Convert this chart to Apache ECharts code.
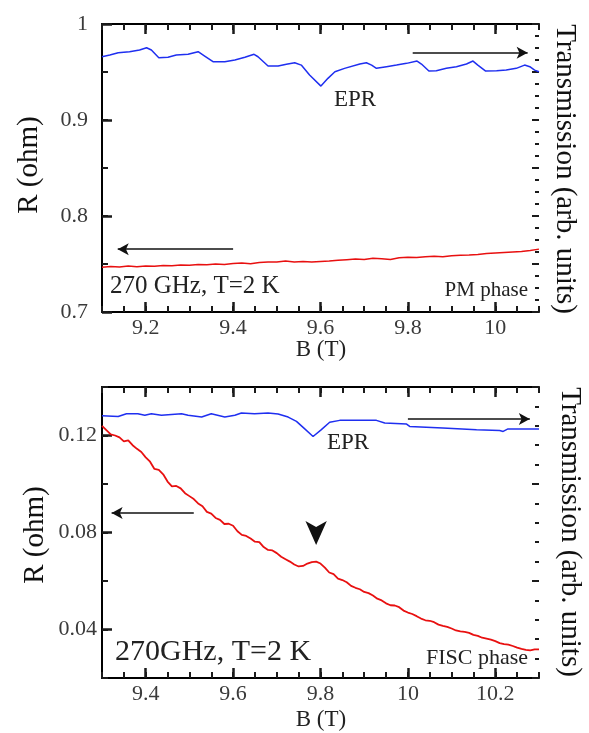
<!DOCTYPE html>
<html>
<head>
<meta charset="utf-8">
<script src="https://cdn.jsdelivr.net/npm/echarts@6/dist/echarts.min.js"></script>
<style>
html,body{margin:0;padding:0;background:#fff;}
#c{width:589px;height:733px;}
</style>
</head>
<body>
<div id="c"></div>
<script>
// ---------- DATA ----------
// Top panel (PM phase)
var topRedB = [9.10,9.12,9.14,9.16,9.18,9.20,9.22,9.24,9.26,9.28,9.30,9.32,9.34,9.36,9.38,9.40,9.42,9.44,9.46,9.48,9.50,9.52,9.54,9.56,9.58,9.60,9.62,9.64,9.66,9.68,9.70,9.72,9.74,9.76,9.78,9.80,9.82,9.84,9.86,9.88,9.90,9.92,9.94,9.96,9.98,10.00,10.02,10.04,10.06,10.08,10.10];
var topRedR = [0.7465,0.7475,0.7470,0.7478,0.7472,0.7480,0.7476,0.7485,0.7482,0.7490,0.7486,0.7495,0.7492,0.7500,0.7496,0.7505,0.7510,0.7503,0.7515,0.7520,0.7522,0.7530,0.7522,0.7525,0.7522,0.7527,0.7530,0.7538,0.7545,0.7552,0.7548,0.7560,0.7555,0.7548,0.7565,0.7570,0.7568,0.7575,0.7580,0.7575,0.7585,0.7590,0.7594,0.7600,0.7610,0.7615,0.7620,0.7625,0.7630,0.7640,0.7655];
var topBlueB = [9.100,9.118,9.137,9.163,9.186,9.202,9.213,9.230,9.251,9.270,9.297,9.320,9.335,9.354,9.381,9.404,9.427,9.448,9.457,9.480,9.503,9.522,9.541,9.556,9.575,9.601,9.617,9.633,9.655,9.690,9.705,9.717,9.728,9.751,9.774,9.797,9.821,9.831,9.848,9.865,9.888,9.911,9.934,9.949,9.960,9.978,10.003,10.025,10.048,10.067,10.079,10.090,10.100];
var topBlueT = [0.9659,0.9677,0.9701,0.9711,0.9729,0.9753,0.9729,0.9649,0.9653,0.9677,0.9684,0.9711,0.9666,0.9607,0.9607,0.9625,0.9653,0.9684,0.9659,0.9562,0.9562,0.9580,0.9596,0.9572,0.9468,0.9353,0.9434,0.9503,0.9538,0.9583,0.9596,0.9572,0.9538,0.9555,0.9572,0.9590,0.9614,0.9583,0.9510,0.9513,0.9538,0.9555,0.9583,0.9614,0.9572,0.9510,0.9513,0.9520,0.9538,0.9572,0.9555,0.9520,0.9503];

// Bottom panel (FISC phase)
var botRedB = [9.30,9.31,9.32,9.33,9.34,9.35,9.36,9.37,9.38,9.39,9.40,9.41,9.42,9.43,9.44,9.45,9.46,9.47,9.48,9.49,9.50,9.51,9.52,9.53,9.54,9.55,9.56,9.57,9.58,9.59,9.60,9.61,9.62,9.63,9.64,9.65,9.66,9.67,9.68,9.69,9.70,9.71,9.72,9.73,9.74,9.75,9.76,9.77,9.78,9.79,9.80,9.81,9.82,9.83,9.84,9.85,9.86,9.87,9.88,9.89,9.90,9.91,9.92,9.93,9.94,9.95,9.96,9.97,9.98,9.99,10.00,10.01,10.02,10.03,10.04,10.05,10.06,10.07,10.08,10.09,10.10,10.11,10.12,10.13,10.14,10.15,10.16,10.17,10.18,10.19,10.20,10.21,10.22,10.23,10.24,10.25,10.26,10.27,10.28,10.29,10.30];
var botRedR = [0.1240,0.1222,0.1205,0.1200,0.1192,0.1176,0.1180,0.1160,0.1145,0.1132,0.1110,0.1092,0.1062,0.1058,0.1040,0.1010,0.0990,0.0992,0.0982,0.0962,0.0950,0.0938,0.0920,0.0908,0.0885,0.0878,0.0860,0.0852,0.0835,0.0836,0.0828,0.0805,0.0790,0.0786,0.0775,0.0762,0.0760,0.0740,0.0728,0.0726,0.0715,0.0700,0.0690,0.0680,0.0668,0.0660,0.0662,0.0672,0.0678,0.0680,0.0672,0.0655,0.0635,0.0628,0.0610,0.0604,0.0595,0.0580,0.0572,0.0566,0.0555,0.0550,0.0540,0.0527,0.0520,0.0508,0.0500,0.0499,0.0492,0.0478,0.0470,0.0464,0.0455,0.0445,0.0438,0.0436,0.0430,0.0420,0.0415,0.0411,0.0404,0.0396,0.0392,0.0390,0.0386,0.0378,0.0374,0.0366,0.0362,0.0358,0.0352,0.0344,0.0340,0.0338,0.0332,0.0325,0.0320,0.0316,0.0314,0.0318,0.0318];
var botBlueB = [9.300,9.337,9.356,9.382,9.398,9.413,9.436,9.482,9.497,9.528,9.550,9.581,9.604,9.619,9.649,9.680,9.703,9.726,9.745,9.764,9.783,9.802,9.821,9.844,9.928,9.947,9.997,10.004,10.080,10.084,10.157,10.210,10.218,10.229,10.300];
var botBlueT = [13.52,13.48,13.62,13.62,13.54,13.62,13.54,13.62,13.54,13.45,13.62,13.45,13.54,13.66,13.62,13.66,13.61,13.45,13.23,12.84,12.45,12.80,13.18,13.28,13.28,13.14,13.09,12.97,12.89,12.80,12.80,12.76,12.71,12.84,12.84];

// Tick values
var topXTicks = [9.2,9.4,9.6,9.8,10];
var botXTicks = [9.4,9.6,9.8,10,10.2];
var topYTicks = [0.7,0.8,0.9,1];
var botYTicks = [0.04,0.08,0.12];

function zip(a,b){var o=[];for(var i=0;i<a.length;i++)o.push([a[i],b[i]]);return o;}

// ---------- STYLE ----------
var FONT = "'Liberation Serif','Times New Roman',serif";
var LBL = '#3a3a3a';
var TK = '#1a1a1a';

function major(grid,min,max,pos,ticks,labels,margin,len){
  return {type:'value', gridIndex:grid, min:min, max:max, position:pos,
    axisLine:{show:true, onZero:false, lineStyle:{color:'#000', width:2}},
    splitLine:{show:false},
    axisTick:{show:true, inside:true, length:len, customValues:ticks, lineStyle:{color:TK, width:2.5}},
    axisLabel:{show:labels, customValues:ticks, margin:margin, fontFamily:FONT, fontSize:22, color:LBL}};
}
function minor(grid,min,max,pos,interval,len){
  return {type:'value', gridIndex:grid, min:min, max:max, position:pos, interval:interval,
    axisLine:{show:false, onZero:false},
    splitLine:{show:false}, axisLabel:{show:false},
    axisTick:{show:true, inside:true, length:len, lineStyle:{color:TK, width:2}}};
}

var chart = echarts.init(document.getElementById('c'));
var txt = function(t,x,y,size,align,rot,color){
  return {type:'text', x:x, y:y, rotation:rot||0, z:100,
    style:{text:t, font: size+'px '+FONT, fill:color||'#1a1a1a', align:align||'center', verticalAlign:'middle'}};
};
var arrowLine = {color:'#111', width:1.5, type:'solid'};

chart.setOption({
  animation:false,
  backgroundColor:'#fff',
  grid:[
    {left:102, top:24, width:437, height:288},
    {left:102, top:387, width:437, height:291}
  ],
  xAxis:[
    major(0,9.1,10.1,'bottom',topXTicks,true,5,10),
    minor(0,9.1,10.1,'bottom',0.05,6),
    major(0,9.1,10.1,'top',topXTicks,false,5,10),
    minor(0,9.1,10.1,'top',0.05,6),
    major(1,9.3,10.3,'bottom',botXTicks,true,5,10),
    minor(1,9.3,10.3,'bottom',0.05,6),
    major(1,9.3,10.3,'top',botXTicks,false,5,10),
    minor(1,9.3,10.3,'top',0.05,6)
  ],
  yAxis:[
    major(0,0.7,1.0,'left',topYTicks,true,14,10),
    minor(0,0.7,1.0,'left',0.05,6),
    minor(0,0.7,1.0,'right',0.05,7),
    minor(0,0.7,1.0,'right',0.0125,4),
    major(1,0.02,0.14,'left',botYTicks,true,5,10),
    minor(1,0.02,0.14,'left',0.02,6),
    minor(1,0,15,'right',5,7),
    minor(1,0,15,'right',1,4)
  ],
  series:[
    {type:'line', xAxisIndex:0, yAxisIndex:0, data:zip(topRedB,topRedR), showSymbol:false,
     lineStyle:{color:'#e81010', width:1.5}, z:3,
     markLine:{silent:true, symbol:['none','arrow'], symbolSize:[9,11], label:{show:false}, lineStyle:arrowLine,
       data:[
         [{coord:[9.40,0.7654]},{coord:[9.136,0.7654]}],
         [{coord:[9.811,0.9701]},{coord:[10.074,0.9701]}]
       ]}},
    {type:'line', xAxisIndex:0, yAxisIndex:2, data:zip(topBlueB,topBlueT), showSymbol:false,
     lineStyle:{color:'#1f2ff0', width:1.5}, z:3},
    {type:'line', xAxisIndex:4, yAxisIndex:4, data:zip(botRedB,botRedR), showSymbol:false,
     lineStyle:{color:'#e81010', width:1.8}, z:3,
     markLine:{silent:true, symbol:['none','arrow'], symbolSize:[9,11], label:{show:false}, lineStyle:arrowLine,
       data:[
         [{coord:[9.510,0.0880]},{coord:[9.322,0.0880]}],
         [{coord:[10.0,0.1268]},{coord:[10.279,0.1268]}]
       ]},
     markPoint:{silent:true, symbol:'arrow', symbolRotate:180, symbolSize:[16,24], itemStyle:{color:'#111'},
       label:{show:false}, data:[{coord:[9.79,0.0748]}]}},
    {type:'line', xAxisIndex:4, yAxisIndex:6, data:zip(botBlueB,botBlueT), showSymbol:false,
     lineStyle:{color:'#1f2ff0', width:1.5}, z:3}
  ],
  graphic:[
    txt('R (ohm)', 29, 165, 29, 'center', Math.PI/2, '#111'),
    txt('R (ohm)', 35, 535, 29, 'center', Math.PI/2, '#111'),
    txt('Transmission (arb. units)', 565, 169, 29, 'center', -Math.PI/2, '#111'),
    txt('Transmission (arb. units)', 570, 532, 29, 'center', -Math.PI/2, '#111'),
    txt('B (T)', 321, 350, 23, 'center', 0, '#222'),
    txt('B (T)', 321, 720, 23, 'center', 0, '#222'),
    txt('EPR', 355, 100, 23, 'center', 0, '#222'),
    txt('EPR', 348, 443, 23, 'center', 0, '#222'),
    txt('270 GHz, T=2 K', 110, 286, 25, 'left', 0, '#222'),
    txt('270GHz, T=2 K', 115, 652, 30, 'left', 0, '#222'),
    txt('PM phase', 528, 290, 21, 'right', 0, '#222'),
    txt('FISC phase', 528, 658, 22, 'right', 0, '#222')
  ]
});
</script>
</body>
</html>
